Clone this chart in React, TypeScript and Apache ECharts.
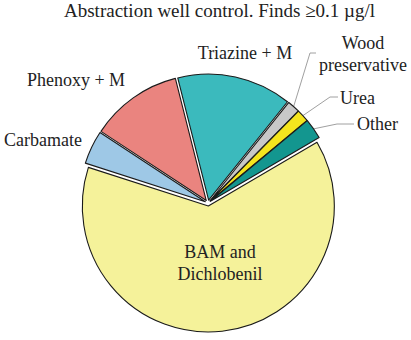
import React, { useEffect, useRef } from "react";
import * as echarts from "echarts";

const TITLE = "Abstraction well control. Finds \u22650.1 \u00b5g/l";
const categories = [
  "BAM and\nDichlobenil",
  "Carbamate",
  "Phenoxy + M",
  "Triazine + M",
  "Wood\npreservative",
  "Urea",
  "Other",
];
const shares = [63.4, 4.3, 11.8, 14.7, 1.6, 1.6, 2.6];
const colors = ["#F5F29A", "#9EC8E6", "#EA847F", "#3BBABD", "#C8C8C8", "#F5E51E", "#13968F"];
const withLeader = [false, false, false, false, true, true, true];

// layout constants
const CX = 208;
const CY = 203;
const R = 126;
const START = 30.4;
const EXPLODE = 3;
const FONT = "'Liberation Serif', 'Times New Roman', serif";

// label placement (layout only)
const LABEL_SPOTS: { x: number; y: number; align: string; bend?: number[]; end?: number[] }[] = [
  { x: 220, y: 263, align: "center" },
  { x: 82, y: 140, align: "right" },
  { x: 76, y: 80, align: "center" },
  { x: 245, y: 53, align: "center" },
  { x: 363, y: 54, align: "center", bend: [310, 53], end: [316, 53] },
  { x: 340, y: 98, align: "left", bend: [330, 97], end: [338, 97] },
  { x: 357, y: 124, align: "left", bend: [337, 124], end: [354, 124] },
];

export default function App() {
  const ref = useRef<HTMLDivElement>(null);
  useEffect(() => {
    if (!ref.current) return;
    const chart = echarts.init(ref.current, undefined, { renderer: "svg" });
    const total = shares.reduce((a, b) => a + b, 0);
    let acc = 0;
    const series = categories.map((_, k) => {
      const span = (shares[k] / total) * 360;
      const mid = START - acc - span / 2;
      acc += span;
      const rad = (mid * Math.PI) / 180;
      const center = [CX + EXPLODE * Math.cos(rad), CY - EXPLODE * Math.sin(rad)];
      return {
        type: "pie",
        center,
        radius: R,
        startAngle: START,
        clockwise: true,
        avoidLabelOverlap: false,
        silent: true,
        emphasis: { disabled: true },
        label: {
          position: "outside",
          fontFamily: FONT,
          fontSize: 18,
          color: "#222",
          lineHeight: 22,
          formatter: (p: any) => p.name,
        },
        labelLine: {
          length: 10,
          length2: 10,
          lineStyle: { color: "#a0a0a0", width: 1 },
        },
        labelLayout: (params: any) => {
          const s = LABEL_SPOTS[params.dataIndex];
          const out: any = { x: s.x, y: s.y, align: s.align, verticalAlign: "middle" };
          if (s.bend && params.labelLinePoints) {
            out.labelLinePoints = [params.labelLinePoints[0], s.bend, s.end];
          }
          return out;
        },
        data: categories.map((name, i) => ({
          name,
          value: shares[i],
          itemStyle:
            i === k
              ? { color: colors[i], borderColor: "#1a1a1a", borderWidth: 1.1 }
              : { color: "rgba(0,0,0,0)", borderWidth: 0 },
          label: { show: i === k },
          labelLine: { show: i === k && withLeader[i] },
        })),
      };
    });
    chart.setOption({
      animation: false,
      title: {
        text: TITLE,
        left: 64,
        top: 1,
        padding: 0,
        textStyle: { fontFamily: FONT, fontSize: 19, fontWeight: "normal", color: "#222" },
      },
      series,
    });
    return () => chart.dispose();
  }, []);
  return (
    <div
      ref={ref}
      style={{ position: "fixed", left: 0, top: 0, width: 411, height: 340, background: "#fff" }}
    />
  );
}
